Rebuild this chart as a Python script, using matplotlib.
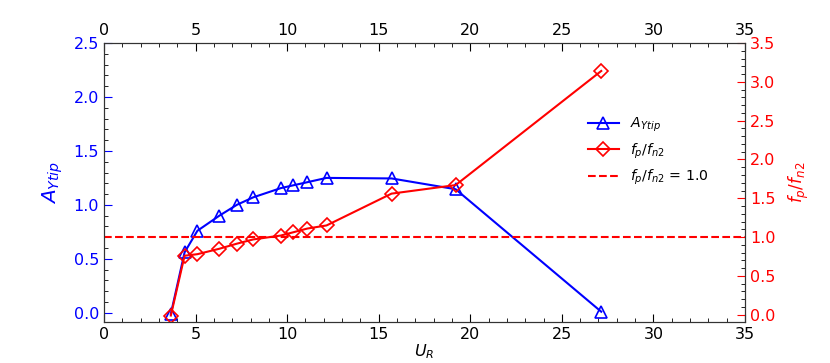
import numpy as np
import matplotlib
matplotlib.use("Agg")
import matplotlib.pyplot as plt
from matplotlib.ticker import MultipleLocator

# reduced velocity
u_r = [3.65, 4.4, 5.1, 6.3, 7.25, 8.15, 9.65, 10.3, 11.1, 12.15, 15.7, 19.2, 27.15]
# tip amplitude (left axis)
a_ytip = [-0.01, 0.56, 0.76, 0.9, 1.0, 1.07, 1.155, 1.18, 1.21, 1.25, 1.245, 1.145, 0.01]
# frequency ratio (right axis)
f_ratio = [-0.01, 0.76, 0.78, 0.85, 0.915, 0.97, 1.02, 1.06, 1.11, 1.15, 1.56, 1.67, 3.14]
ref_ratio = 1.0

fs = 11.5

fig = plt.figure(figsize=(8.3, 3.63), dpi=100)
ax1 = fig.add_axes([0.1253, 0.1116, 0.7723, 0.7699])
ax2 = ax1.twinx()

l1, = ax1.plot(u_r, a_ytip, color='blue', lw=1.5, marker='^', ms=8,
               mfc='none', mec='blue', mew=1.2, label=r'$A_{Ytip}$')
l2, = ax2.plot(u_r, f_ratio, color='red', lw=1.5, marker='D', ms=7.5,
               mfc='none', mec='red', mew=1.2, label=r'$f_p/f_{n2}$')
l3 = ax2.axhline(ref_ratio, color='red', lw=1.5, ls='--',
                 label=r'$f_p/f_{n2}$ = 1.0')

ax1.set_xlim(0, 35)
ax1.set_ylim(-0.09, 2.5)
ax2.set_ylim(-0.1, 3.5)

ax1.xaxis.set_major_locator(MultipleLocator(5))
ax1.xaxis.set_minor_locator(MultipleLocator(1))
ax1.yaxis.set_major_locator(MultipleLocator(0.5))
ax1.yaxis.set_minor_locator(MultipleLocator(0.1))
ax2.yaxis.set_major_locator(MultipleLocator(0.5))
ax2.yaxis.set_minor_locator(MultipleLocator(0.1))

ax1.tick_params(axis='x', which='both', direction='in', top=True, labeltop=True,
                labelsize=fs)
ax1.tick_params(axis='x', which='major', length=6)
ax1.tick_params(axis='x', which='minor', length=3)
ax1.tick_params(axis='y', which='major', direction='in', length=6,
                colors='blue', labelsize=fs)
ax1.tick_params(axis='y', which='minor', direction='in', length=3, color='black')
ax2.tick_params(axis='y', which='major', direction='in', length=6,
                colors='red', labelsize=fs)
ax2.tick_params(axis='y', which='minor', direction='in', length=3, color='black')

for ax in (ax1, ax2):
    for s in ax.spines.values():
        s.set_color('#333333')

ax1.set_xlabel(r'$U_R$', fontsize=11.5, labelpad=0)
ax1.set_ylabel(r'$A_{Ytip}$', color='blue', fontsize=14.5, labelpad=6)
ax2.set_ylabel(r'$f_p/f_{n2}$', color='red', fontsize=12.2, labelpad=8)

ax2.legend(handles=[l1, l2, l3], loc='upper left', bbox_to_anchor=(0.735, 0.785),
           frameon=False, fontsize=10.2, handlelength=2.2)

fig.savefig('out.png', dpi=100)
